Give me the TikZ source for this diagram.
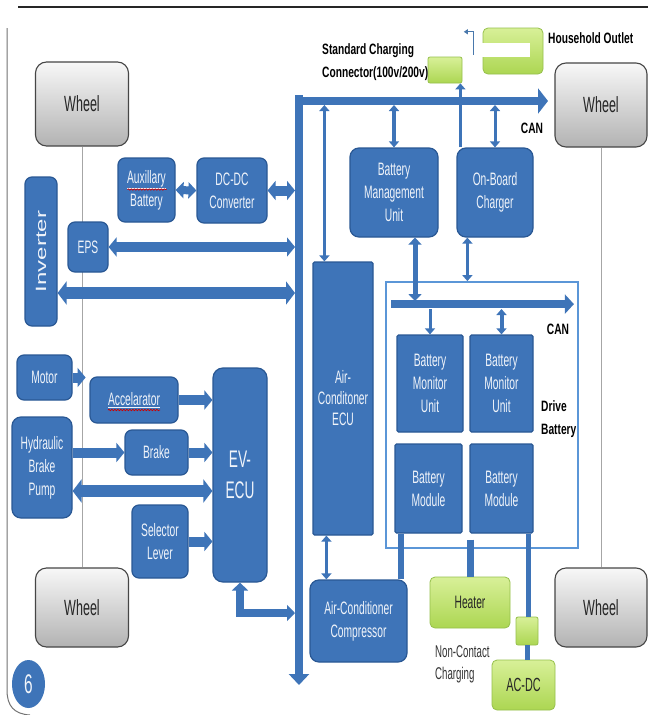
\documentclass[tikz,border=0pt]{standalone}
\usepackage{fontspec}
\usepackage{graphicx}
\setmainfont{Liberation Sans}[FakeStretch=0.57]
\newfontfamily\lblfont{Liberation Sans}[FakeStretch=0.68]
\newfontfamily\plainfont{Liberation Sans}
\usetikzlibrary{arrows.meta,calc,shapes.geometric,decorations.pathmorphing}
\definecolor{bfill}{RGB}{62,116,184}
\definecolor{bdraw}{RGB}{42,88,148}
\definecolor{gtop}{RGB}{216,240,152}
\definecolor{gbot}{RGB}{172,214,82}
\definecolor{gdraw}{RGB}{150,192,76}
\definecolor{wdraw}{RGB}{70,70,70}
\definecolor{framec}{RGB}{91,150,215}
\definecolor{txtw}{RGB}{240,244,250}
\tikzset{
  bluebox/.style={draw=bdraw, fill=bfill, line width=1.2pt, rounded corners=7pt, text=txtw, align=center, inner sep=1pt, font=\fontsize{18}{23}\selectfont},
  sqbox/.style={bluebox, rounded corners=1.5pt},
  wheelbox/.style={draw=wdraw, line width=1.1pt, rounded corners=11pt, top color=black!3, bottom color=black!30, font=\fontsize{22}{24}\selectfont, text=black!85},
  greenbox/.style={draw=gdraw, line width=0.8pt, rounded corners=5pt, top color=gtop, bottom color=gbot, font=\fontsize{18}{22}\selectfont, text=black!85, align=center, inner sep=1pt},
  lbl/.style={font=\lblfont\bfseries\fontsize{15}{23}\selectfont, text=black, align=left, inner sep=0pt},
  note/.style={font=\fontsize{17}{22}\selectfont, text=black!80, align=left, inner sep=0pt},
  bar/.style={draw=bfill, line width=#1},
  bar/.default=10pt,
  axle/.style={draw=black!35, line width=0.7pt},
  big2/.style={bar=10pt, arrows={Triangle[width=19pt,length=8pt]-Triangle[width=19pt,length=8pt]}},
  big1/.style={bar=10pt, arrows={-Triangle[width=19pt,length=8pt]}},
  huge2/.style={bar=12pt, arrows={Triangle[width=23pt,length=9pt]-Triangle[width=23pt,length=9pt]}},
  mid2/.style={bar=8pt, arrows={Triangle[width=16pt,length=8pt]-Triangle[width=16pt,length=8pt]}},
  mid2b/.style={bar=5pt, arrows={Triangle[width=13pt,length=7pt]-Triangle[width=13pt,length=7pt]}},
  thin2/.style={bar=3pt, arrows={Triangle[width=10pt,length=6pt]-Triangle[width=10pt,length=6pt]}},
  thin1/.style={bar=3pt, arrows={-Triangle[width=10pt,length=6pt]}},
  spell/.style={draw=red!80!black, line width=0.7pt, decorate, decoration={snake, amplitude=0.7pt, segment length=3pt}},
}
\begin{document}
\begin{tikzpicture}[x=1pt,y=-1pt]
\fill[white] (0,0) rectangle (648,715);
\useasboundingbox (0,0) rectangle (648,715);
% frame
\draw[black!85, line width=1.5pt] (18,7) -- (648,7);
\draw[black!55, line width=1pt] (7,28) -- (7,690) .. controls (7,706) and (14,714) .. (30,715);
% wheels
\node[wheelbox, minimum width=93pt, minimum height=84pt] (wTL) at (82,104) {Wheel};
\node[wheelbox, minimum width=92pt, minimum height=84pt] (wTR) at (601,105) {Wheel};
\node[wheelbox, minimum width=93pt, minimum height=79pt] (wBL) at (82,607.5) {Wheel};
\node[wheelbox, minimum width=92pt, minimum height=79pt] (wBR) at (601,607.5) {Wheel};
\draw[axle] (wTL.south) -- (wBL.north);
\draw[axle] (wTR.south) -- (wBR.north);
% drive battery frame
\node[draw=framec, line width=1.8pt, minimum width=192pt, minimum height=266pt, inner sep=0pt] (drive) at (482,415) {};
% main buses
\coordinate (busTop) at (299,95);
\coordinate (busEnd) at (299,685);
\coordinate (canL) at (295,101);
\coordinate (canR) at (548,101);
\coordinate (busL) at (295,0);
\coordinate (canB) at (0,105);
\draw[bar=8pt, arrows={-Triangle[width=20pt,length=11pt]}] (busTop) -- (busEnd);
\draw[bar=8pt, arrows={-Triangle[width=25pt,length=10pt]}] (canL) -- (canR);
% blue boxes
\node[bluebox, minimum width=32pt, minimum height=149pt] (inv) at (41,251.5) {\rotatebox{90}{\scalebox{1}[0.62]{\plainfont\fontsize{24}{24}\selectfont Inverter}}};
\node[bluebox, minimum width=57pt, minimum height=64pt] (aux) at (146.5,190) {\underline{Auxillary}\\Battery};
\node[bluebox, minimum width=70pt, minimum height=65pt] (dcdc) at (232,190.5) {DC-DC\\Converter};
\node[bluebox, minimum width=40pt, minimum height=50pt] (eps) at (88,247) {EPS};
\node[bluebox, minimum width=55pt, minimum height=45pt] (motor) at (44.5,377.5) {Motor};
\node[bluebox, minimum width=88pt, minimum height=46pt] (accel) at (134,400) {\underline{Accelarator}};
\node[bluebox, minimum width=60pt, minimum height=101pt, rounded corners=9pt] (hyd) at (42,467.5) {Hydraulic\\Brake\\Pump};
\node[bluebox, minimum width=63pt, minimum height=45pt] (brake) at (156.5,452.5) {Brake};
\node[bluebox, minimum width=54pt, minimum height=214pt, rounded corners=10pt, font=\fontsize{24}{31}\selectfont] (evecu) at (240,475) {EV-\\ECU};
\node[bluebox, minimum width=56pt, minimum height=73pt] (sel) at (160,541.5) {Selector\\Lever};
\node[sqbox, minimum width=60pt, minimum height=273pt, font=\fontsize{18}{21}\selectfont] (acecu) at (343,398.5) {Air-\\Conditoner\\ECU};
\node[bluebox, minimum width=97pt, minimum height=82pt, rounded corners=9pt] (accomp) at (358.5,621) {Air-Conditioner\\Compressor};
\node[bluebox, minimum width=88pt, minimum height=89pt, rounded corners=9pt] (bmu) at (394,192.5) {Battery\\Management\\Unit};
\node[bluebox, minimum width=76pt, minimum height=89pt, rounded corners=9pt] (obc) at (495,192.5) {On-Board\\Charger};
\node[sqbox, minimum width=66pt, minimum height=97pt] (bmon1) at (430,383.5) {Battery\\Monitor\\Unit};
\node[sqbox, minimum width=63pt, minimum height=97pt] (bmon2) at (501.5,383.5) {Battery\\Monitor\\Unit};
\node[sqbox, minimum width=67pt, minimum height=89pt] (bmod1) at (428.5,488.5) {Battery\\Module};
\node[sqbox, minimum width=63pt, minimum height=89pt] (bmod2) at (501.5,488.5) {Battery\\Module};
% green boxes
\node[greenbox, minimum width=34pt, minimum height=26pt, rounded corners=2pt] (scc) at (445,70) {};
\node[greenbox, minimum width=60pt, minimum height=46pt] (hho) at (513,51) {};
\node[fill=white, minimum width=55pt, minimum height=14pt, inner sep=0pt] (hwh) at (502.5,50) {};
\node[greenbox, minimum width=80pt, minimum height=51pt] (heater) at (470,602.5) {Heater};
\node[greenbox, minimum width=22pt, minimum height=28pt, rounded corners=2pt] (nc) at (527,631) {};
\node[greenbox, minimum width=63pt, minimum height=50pt, font=\fontsize{19}{22}\selectfont] (acdc) at (523.5,685) {AC-DC};
\node[ellipse, fill=bfill, minimum width=33pt, minimum height=48pt, inner sep=0pt, text=txtw, font=\fontsize{27}{27}\selectfont] (six) at (28.5,684) {6};
% labels
\node[lbl, anchor=north west] (stdlbl) at (322,43) {Standard Charging\\Connector(100v/200v)};
\node[lbl, anchor=north west] (hholbl) at (548,32) {Household Outlet};
\node[lbl] (can1) at (532,128) {CAN};
\node[lbl] (can2) at (558,329) {CAN};
\node[lbl, anchor=north west] (drvlbl) at (541,400) {Drive\\Battery};
\node[note, anchor=north west] (nclbl) at (435,645) {Non-Contact\\Charging};
% left connectors
\draw[mid2] (aux.east) -- (dcdc.west);
\draw[big2] (dcdc.east) -- (dcdc.east -| busL);
\draw[big2] (eps.east -| busL) -- (eps.east);
\coordinate (invIn) at ($(inv.east)+(0,41.5)$);
\draw[huge2] (invIn -| busL) -- (invIn);
\coordinate (motorTip) at ($(motor.east)+(13,0)$);
\draw[big1] (motor.east) -- (motorTip);
\draw[big1] (accel.east) -- (accel.east -| evecu.west);
\draw[big1] (brake.west -| hyd.east) -- (brake.west);
\draw[big1] (brake.east) -- (brake.east -| evecu.west);
\coordinate (hydOut) at ($(hyd.east)+(0,23.5)$);
\draw[huge2] (hydOut) -- (hydOut -| evecu.west);
\draw[big1] (sel.east) -- (sel.east -| evecu.west);
\coordinate (ecuBus) at (295,613);
\draw[mid2] (evecu.south) |- (ecuBus);
% right connectors
\coordinate (acTop) at ($(acecu.north west)+(12,0)$);
\draw[thin2] (acTop |- canB) -- (acTop);
\coordinate (acBot) at ($(acecu.south west)+(14,0)$);
\draw[thin2] (acBot) -- (acBot |- accomp.north);
\draw[thin2, bar=4pt] (bmu.north |- canB) -- (bmu.north);
\draw[thin2] (obc.north |- canB) -- (obc.north);
\coordinate (chg) at ($(obc.north west)+(4,0)$);
\draw[thin1, bar=2.5pt] (chg) -- (chg |- scc.south);
\coordinate (icanL) at ($(drive.north west)+(6,23)$);
\coordinate (icanR) at ($(drive.north east)+(-5,23)$);
\draw[bar=8pt, arrows={-Triangle[width=19pt,length=9pt]}] (icanL) -- (icanR);
\coordinate (icanT) at (0,301);
\coordinate (icanBt) at (0,309);
\coordinate (bmuDn) at ($(bmu.south)+(21,0)$);
\draw[mid2b] (bmuDn) -- (bmuDn |- icanT);
\coordinate (obcDn) at ($(obc.south west)+(11,0)$);
\draw[thin2] (obcDn) -- (obcDn |- drive.north);
\draw[thin1] (bmon1.north |- icanBt) -- (bmon1.north);
\draw[thin2, bar=4pt] (bmon2.north |- icanBt) -- (bmon2.north);
\coordinate (m1) at ($(bmod1.south west)+(7,0)$);
\draw[bar=6pt] (m1) -- (m1 |- accomp.north);
\coordinate (hjoin) at ($(heater.north)+(0,-37)$);
\draw[bar=7pt] (hjoin) -- (heater.north);
\coordinate (m2) at ($(bmod2.south east)+(-5,0)$);
\draw[bar=5pt] (m2) -- (m2 |- nc.north);
\draw[bar=5pt] (nc.south) -- (nc.south |- acdc.north);
% household outlet marker
\coordinate (ha) at ($(hwh.north west)+(-1,12)$);
\coordinate (hb) at ($(hwh.north west)+(-1,-11)$);
\coordinate (hc) at ($(hwh.north west)+(-11,-11)$);
\draw[draw=framec!80!black, line width=0.8pt, arrows={-Triangle[width=5pt,length=4pt]}] (ha) -- (hb) -- (hc);
% spell-check underlines
\draw[spell] ($(aux.center)+(-19,-0.5)$) -- ($(aux.center)+(20,-0.5)$);
\draw[spell] ($(accel.center)+(-26,10)$) -- ($(accel.center)+(26,10)$);
\end{tikzpicture}
\end{document}
